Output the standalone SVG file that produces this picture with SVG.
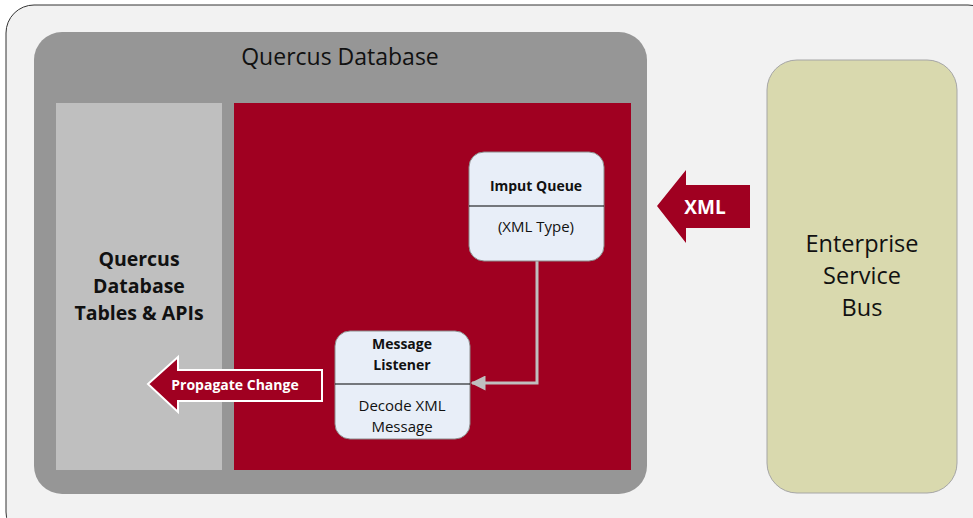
<svg xmlns="http://www.w3.org/2000/svg" width="973" height="518" viewBox="0 0 973 518">
<style>
text{font-family:"Open Sans","Noto Sans","Liberation Sans",sans-serif;}
.node{fill:#e8eef8;stroke:#8c8c8c;stroke-width:1;}
.div{stroke:#000;stroke-width:1;}
.bt{font-weight:bold;font-size:14px;fill:#111;text-anchor:middle;}
.nt{font-size:15px;fill:#111;text-anchor:middle;}
.big{font-size:23.5px;fill:#111;text-anchor:middle;}
.red{fill:#a00021;}
</style>
<defs>
<marker id="ah" viewBox="0 0 10 10" refX="9" refY="5" markerWidth="5" markerHeight="5" orient="auto" markerUnits="strokeWidth">
<path d="M0,0 L10,5 L0,10 z" fill="#bfbfbf"/>
</marker>
</defs>
<rect x="0" y="0" width="973" height="518" fill="#ffffff"/>
<g id="frame"><rect x="6" y="5" width="990" height="535" rx="28" fill="#f2f2f2" stroke="#333" stroke-width="1"/></g>
<g id="quercus-db">
<rect x="34" y="32" width="613" height="462" rx="28" fill="#969696"/>
<text x="340" y="65" class="big" style="font-size:23px">Quercus Database</text>
</g>
<g id="tables-apis">
<rect x="56" y="103" width="166" height="367" fill="#bfbfbf"/>
<text x="139" y="266" class="bt" style="font-size:19.5px">Quercus</text>
<text x="139" y="293" class="bt" style="font-size:19.5px">Database</text>
<text x="139" y="320" class="bt" style="font-size:19.5px">Tables &amp; APIs</text>
</g>
<g id="red-area"><rect x="234" y="103" width="397" height="367" class="red"/></g>
<g id="connectors">
<path d="M537,261 V383 H472" fill="none" stroke="#bfbfbf" stroke-width="3" marker-end="url(#ah)"/>
</g>
<g id="input-queue">
<rect x="469" y="152" width="135" height="109" rx="15" class="node"/>
<line x1="469" y1="206" x2="604" y2="206" class="div"/>
<text x="536" y="191" class="bt">Imput Queue</text>
<text x="536" y="232" class="nt">(XML Type)</text>
</g>
<g id="message-listener">
<rect x="335" y="331" width="135" height="108" rx="15" class="node"/>
<line x1="335" y1="384" x2="470" y2="384" class="div"/>
<text x="402" y="349" class="bt">Message</text>
<text x="402" y="370" class="bt">Listener</text>
<text x="402" y="411" class="nt">Decode XML</text>
<text x="402" y="432" class="nt">Message</text>
</g>
<g id="xml-arrow">
<path d="M657,206 L686,170 L686,185 L750,185 L750,228 L686,228 L686,243 Z" class="red"/>
<text x="705" y="214" style="font-weight:bold;font-size:19px;fill:#fff;text-anchor:middle">XML</text>
</g>
<g id="propagate-arrow">
<path d="M148,384 L178,357 L178,370 L322,370 L322,401 L178,401 L178,412 Z" class="red" stroke="#fff" stroke-width="2"/>
<text x="235" y="390" style="font-weight:bold;font-size:14px;fill:#fff;text-anchor:middle">Propagate Change</text>
</g>
<g id="esb">
<rect x="767" y="60" width="190" height="433" rx="30" fill="#d9d9ae" stroke="#a6a6a6" stroke-width="1"/>
<text x="862" y="252" class="big">Enterprise</text>
<text x="862" y="284" class="big">Service</text>
<text x="862" y="316" class="big">Bus</text>
</g>
</svg>
